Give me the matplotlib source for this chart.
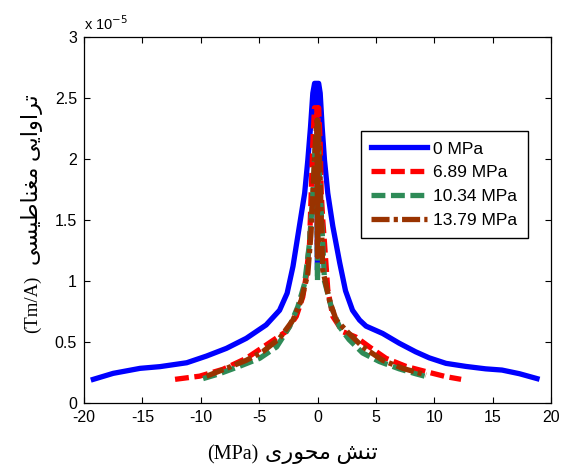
import matplotlib
matplotlib.use("Agg")
import matplotlib.pyplot as plt
from matplotlib.ticker import FuncFormatter

# ---------------- data (y in units of 1e-5 Tm/A) ----------------
x_0 = [-19.2, -17.5, -15.2, -13.5, -11.2, -9.5, -7.8, -6.1, -4.4, -3.25, -2.6, -2.1, -1.6,
       -1.1, -0.83, -0.6, -0.4, -0.25, -0.05, 0.0, 0.0, 0.05, 0.1, 0.23, 0.4, 0.6, 0.88, 1.31,
       1.9, 2.4, 3.0, 3.6, 4.16, 5.58, 7.0, 8.4, 9.57, 11.0, 12.7, 14.4, 15.8, 17.3, 18.8]
y_0 = [0.194, 0.243, 0.284, 0.298, 0.33, 0.385, 0.448, 0.53, 0.64, 0.76, 0.9, 1.12, 1.42,
       1.72, 1.99, 2.26, 2.54, 2.62, 2.62, 1.09, 2.6, 2.62, 2.62, 2.54, 2.26, 1.99, 1.72, 1.45,
       1.15, 0.92, 0.76, 0.68, 0.63, 0.57, 0.49, 0.42, 0.37, 0.325, 0.30, 0.28, 0.27, 0.24, 0.20]

x_689 = [-12.2, -10.1, -8.1, -6.1, -4.4, -2.7, -1.82, -1.26, -0.97, -0.68, -0.54, -0.4, -0.26,
         -0.05, 0.0, 0.05, 0.1, 0.23, 0.32, 0.45, 0.6, 0.88, 1.31, 2.16, 3.3, 4.44, 5.87, 7.58,
         9.3, 11.0, 12.3]
y_689 = [0.194, 0.22, 0.276, 0.366, 0.475, 0.585, 0.71, 0.87, 1.04, 1.31, 1.72, 2.13, 2.42,
         2.42, 1.3, 2.4, 2.42, 2.13, 1.72, 1.5, 1.31, 0.93, 0.71, 0.585, 0.54, 0.46, 0.366, 0.30,
         0.257, 0.216, 0.194]

x_1034 = [-9.8, -8.4, -6.7, -4.96, -3.5, -2.4, -1.68, -1.1, -0.7, -0.4, -0.2, -0.05, 0.0, 0.05,
          0.2, 0.4, 0.6, 1.17, 1.88, 2.7, 3.87, 5.3, 7.0, 8.4, 9.57]
y_1034 = [0.2, 0.24, 0.30, 0.366, 0.46, 0.625, 0.79, 0.98, 1.3, 1.7, 2.1, 2.2, 1.0, 2.2,
          1.8, 1.4, 1.0, 0.79, 0.625, 0.52, 0.41, 0.34, 0.28, 0.24, 0.21]

x_1379 = [-9.5, -7.8, -6.1, -4.7, -3.25, -2.1, -1.4, -0.83, -0.55, -0.35, -0.15, -0.03, 0.0,
          0.05, 0.15, 0.3, 0.45, 1.03, 1.6, 2.7, 3.87, 5.58, 7.3, 9.3]
y_1379 = [0.22, 0.284, 0.35, 0.42, 0.53, 0.68, 0.84, 1.06, 1.4, 1.8, 2.2, 2.32, 1.2,
          2.3, 2.1, 1.6, 1.09, 0.84, 0.68, 0.57, 0.46, 0.35, 0.284, 0.23]

series_labels = ["0 MPa", "6.89 MPa", "10.34 MPa", "13.79 MPa"]
x_ticks = [-20, -15, -10, -5, 0, 5, 10, 15, 20]
y_ticks = [0, 0.5, 1, 1.5, 2, 2.5, 3]
xlabel_unit = "(MPa)"
xlabel_fa = "تنش محوری"
ylabel_unit = "(Tm/A)"
ylabel_fa = "تراوایی مغناطیسی"
SCALE = 1e-5

# ---------------- simple Persian shaping for display ----------------
FORMS = {  # isolated, final, initial, medial
    "\u062A": ("\uFE95", "\uFE96", "\uFE97", "\uFE98"),
    "\u0631": ("\uFEAD", "\uFEAE", None, None),
    "\u0627": ("\uFE8D", "\uFE8E", None, None),
    "\u0648": ("\uFEED", "\uFEEE", None, None),
    "\u06CC": ("\uFBFC", "\uFBFD", "\uFBFE", "\uFBFF"),
    "\u0645": ("\uFEE1", "\uFEE2", "\uFEE3", "\uFEE4"),
    "\u063A": ("\uFECD", "\uFECE", "\uFECF", "\uFED0"),
    "\u0646": ("\uFEE5", "\uFEE6", "\uFEE7", "\uFEE8"),
    "\u0637": ("\uFEC1", "\uFEC2", "\uFEC3", "\uFEC4"),
    "\u0633": ("\uFEB1", "\uFEB2", "\uFEB3", "\uFEB4"),
    "\u0634": ("\uFEB5", "\uFEB6", "\uFEB7", "\uFEB8"),
    "\u062D": ("\uFEA1", "\uFEA2", "\uFEA3", "\uFEA4"),
}


def shape(s):
    out = []
    n = len(s)
    for i, c in enumerate(s):
        if c not in FORMS:
            out.append(c)
            continue
        prev = s[i - 1] if i > 0 else None
        nxt = s[i + 1] if i < n - 1 else None
        join_prev = prev in FORMS and FORMS[prev][2] is not None
        join_next = nxt in FORMS and FORMS[c][2] is not None
        f = FORMS[c]
        if join_prev and join_next:
            out.append(f[3])
        elif join_prev:
            out.append(f[1])
        elif join_next:
            out.append(f[2])
        else:
            out.append(f[0])
    return "".join(out)[::-1]


# ---------------- plot ----------------
plt.rcParams["font.family"] = ["Liberation Sans", "DejaVu Sans"]
plt.rcParams["lines.scale_dashes"] = False

W, H = 561, 471
fig = plt.figure(figsize=(W / 100, H / 100), dpi=100)
ax = fig.add_axes([84 / W, 1 - 403 / H, (551 - 84) / W, (403 - 37) / H])

lw = 3.8
ax.plot(x_0, [v * SCALE for v in y_0], color="#0000FF", lw=lw, label=series_labels[0],
        solid_joinstyle="round")
ax.plot(x_689, [v * SCALE for v in y_689], color="#FF0000", lw=lw, ls=(0, (10, 4)),
        label=series_labels[1])
ax.plot(x_1034, [v * SCALE for v in y_1034], color="#2E8B57", lw=lw, ls=(0, (10, 4)),
        label=series_labels[2])
ax.plot(x_1379, [v * SCALE for v in y_1379], color="#993300", lw=lw, ls=(0, (13, 3, 3, 3)),
        label=series_labels[3])

ax.set_xlim(-20, 20)
ax.set_ylim(0, 3 * SCALE)
ax.set_xticks(x_ticks)
ax.set_yticks([t * SCALE for t in y_ticks])
ax.yaxis.set_major_formatter(FuncFormatter(lambda v, p: f"{v / SCALE:g}"))
ax.xaxis.set_major_formatter(FuncFormatter(lambda v, p: f"{v:g}"))
ax.tick_params(direction="in", top=True, right=True, labelsize=11.5, length=4, width=0.8,
               pad=5)
for s in ax.spines.values():
    s.set_linewidth(0.9)

ax.text(0.0, 1.012, "x 10$^{-5}$", transform=ax.transAxes, fontsize=10.5, ha="left",
        va="bottom")

# axis labels: Latin part in serif, Persian part slightly larger
serif = ["Liberation Serif", "DejaVu Sans"]
fig.text(258 / W, 1 - 459 / H, xlabel_unit, fontsize=14.5, family=serif,
         ha="right", va="baseline")
fig.text(265 / W, 1 - 459 / H, shape(xlabel_fa), fontsize=16, family=serif,
         ha="left", va="baseline")
fig.text(37 / W, 1 - 333 / H, ylabel_unit, fontsize=13.5, family=serif, rotation=90,
         rotation_mode="anchor", ha="left", va="baseline")
fig.text(38 / W, 1 - 265 / H, shape(ylabel_fa), fontsize=16, family=serif, rotation=90,
         rotation_mode="anchor", ha="left", va="baseline")

leg = ax.legend(loc="upper left", bbox_to_anchor=((361 - 84) / 467, (403 - 131) / 366),
                borderaxespad=0, fancybox=False, edgecolor="black", framealpha=1,
                fontsize=12.5, handlelength=3.2, labelspacing=0.5, borderpad=0.6,
                handletextpad=0.35)
leg.get_frame().set_linewidth(1.0)

fig.savefig("out.png", dpi=100)
